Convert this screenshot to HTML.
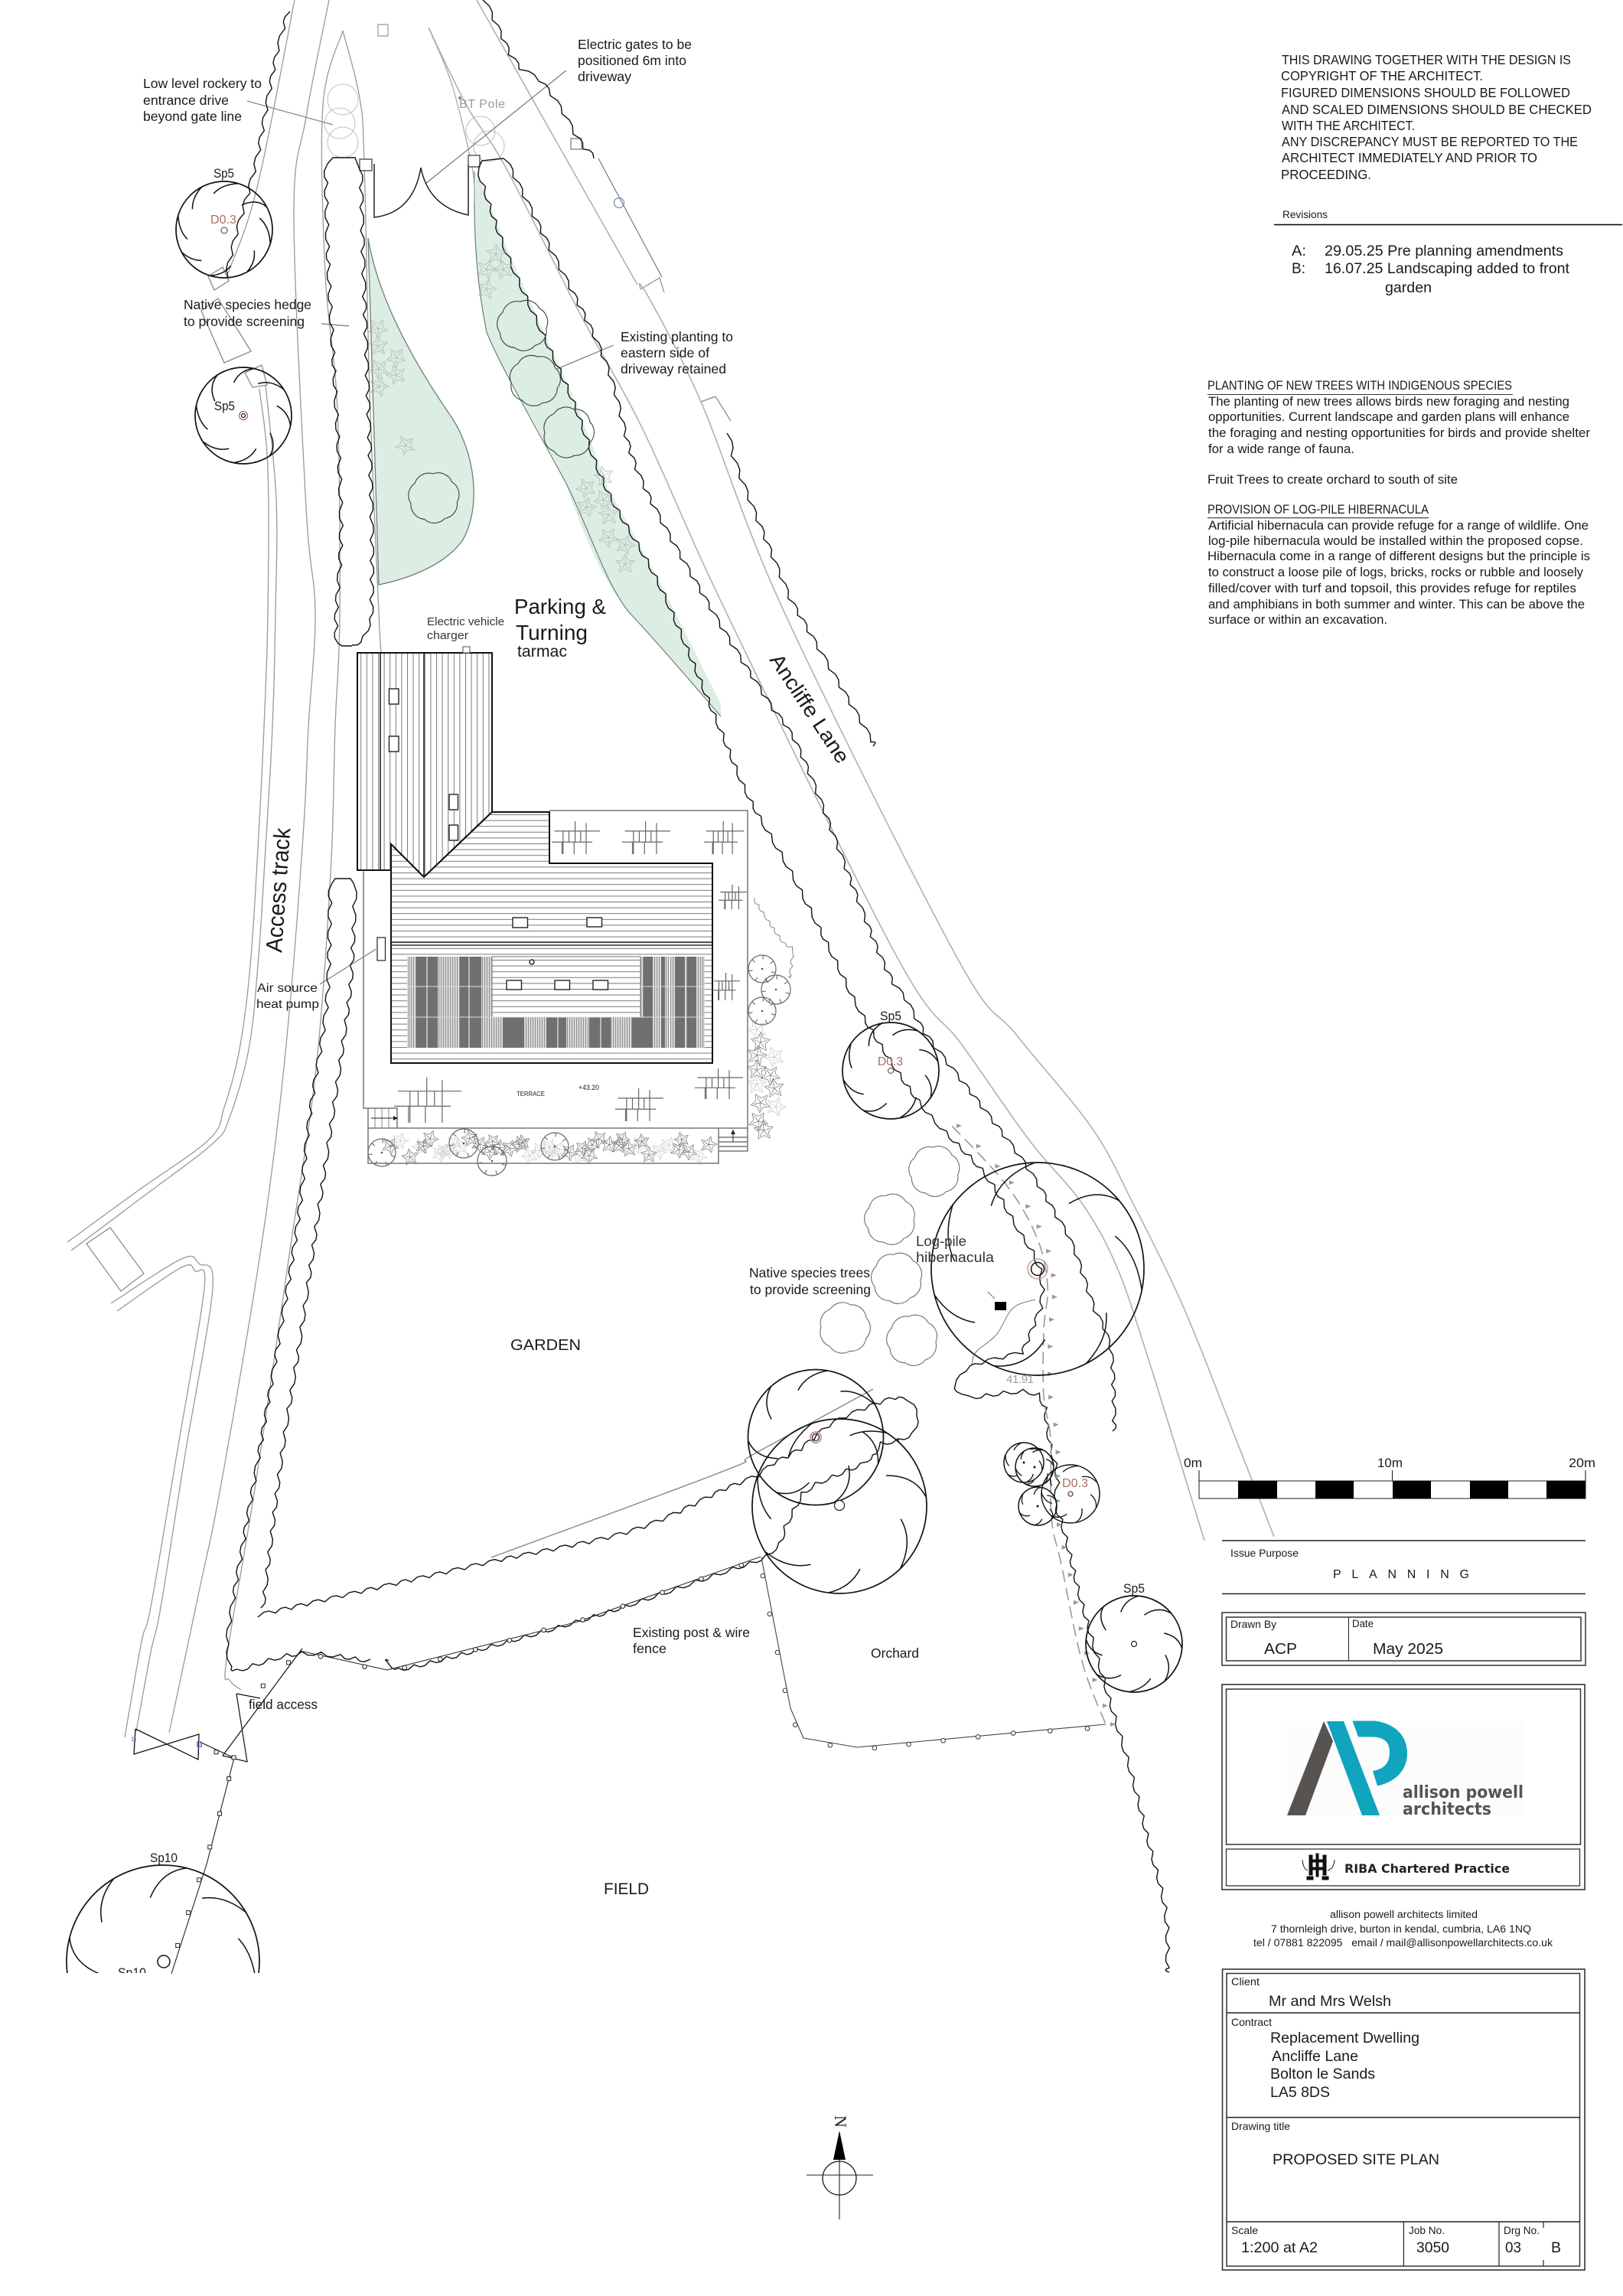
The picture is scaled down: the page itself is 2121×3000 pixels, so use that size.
<!DOCTYPE html>
<html><head><meta charset="utf-8"><title>Proposed Site Plan</title>
<style>
html,body{margin:0;padding:0;background:#fff}
svg{display:block}
text{font-family:"Liberation Sans",Arial,sans-serif;fill:#1a1a1a}
.b{font-weight:bold}
</style></head><body>
<svg xmlns="http://www.w3.org/2000/svg" width="2121" height="3000" viewBox="0 0 2121 3000">
<defs>
<pattern id="vs" width="7.6" height="10" patternUnits="userSpaceOnUse"><rect width="7.6" height="10" fill="#fff"/><rect x="0" width="1" height="10" fill="#7a7a7a"/></pattern>
<pattern id="hs" width="10" height="7.6" patternUnits="userSpaceOnUse"><rect width="10" height="7.6" fill="#fff"/><rect y="0" width="10" height="1" fill="#7a7a7a"/></pattern>
<pattern id="lt" width="3" height="10" patternUnits="userSpaceOnUse"><rect width="3" height="10" fill="#dcdcdc"/><rect width="1.1" height="10" fill="#909090"/></pattern>
<symbol id="pav" viewBox="0 0 140 90" preserveAspectRatio="none"><path vector-effect="non-scaling-stroke" fill="none" stroke="#666" stroke-width="1.2" d="M8 27H140M0 57H118M33 27V90M50 27V57M68 0V57M100 5V57M84 27V57M30 57V90M65 57V90M100 57V90"/></symbol>
<clipPath id="cut"><rect x="0" y="2300" width="500" height="278"/></clipPath>
</defs>
<rect width="2121" height="3000" fill="#fff"/>

<!-- green planting -->
<path d="M481,311 C495,395 545,480 590,545 C620,590 630,660 605,705 C585,735 540,755 495,764 Z" fill="#dceee3" stroke="#6f7f75" stroke-width="1.3"/>
<path d="M623,224 L661,321 L706,423 L750,520 L795,638 L865,765 L942,920 L942,936 C915,905 860,840 822,800 C790,760 770,720 738,628 C710,570 690,540 674,510 C650,470 640,440 636,434 C625,380 620,320 620,265 Z" fill="#dceee3" stroke="none"/>
<path d="M620,224 L620,265 C620,320 625,380 636,434 C650,470 690,540 738,628 C770,690 790,760 822,800 C860,840 915,905 942,936" fill="none" stroke="#6f7f75" stroke-width="1.2"/>

<g id="g"></g>

<!-- building -->
<polygon points="467,853 643,853 643,1061 554,1146 511,1103 511,1137 467,1137" fill="url(#vs)" stroke="#111" stroke-width="2"/>
<polygon points="511,1103 554,1146 643,1061 718,1061 718,1128 931,1128 931,1389 511,1389" fill="url(#hs)" stroke="#111" stroke-width="2"/>
<path d="M554,853V1146M497,853V1137" stroke="#222" stroke-width="1.6" fill="none"/>
<path d="M511,1231H931M511,1235H931" stroke="#333" stroke-width="1.4"/>
<rect x="532" y="1250" width="389" height="119" fill="#707070"/>
<g fill="url(#lt)">
<rect x="532" y="1250" width="12" height="119"/><rect x="572" y="1250" width="29" height="119"/>
<rect x="629" y="1250" width="14" height="119"/>
<rect x="837" y="1250" width="4" height="79"/><rect x="853" y="1250" width="11" height="119"/><rect x="869" y="1250" width="13" height="119"/><rect x="895" y="1250" width="3" height="119"/><rect x="910" y="1250" width="11" height="119"/>
<rect x="643" y="1329" width="14" height="40"/><rect x="685" y="1329" width="29" height="40"/><rect x="740" y="1329" width="30" height="40"/><rect x="798" y="1329" width="28" height="40"/>
</g>
<rect x="643" y="1250" width="194" height="79" fill="url(#hs)" stroke="#777"/>
<path d="M532,1289H643M837,1289H921M532,1329H921" stroke="#ddd" stroke-width="1"/>
<path d="M558,1250V1369M613,1250V1369M729,1329V1369M785,1329V1369M875,1250V1369" stroke="#fff" stroke-width="1"/>
<g fill="#fff" stroke="#222" stroke-width="1.4">
<rect x="508.5" y="900" width="12.5" height="20"/><rect x="508.5" y="962" width="12.5" height="20"/>
<rect x="587" y="1038" width="11.5" height="20"/><rect x="587" y="1078" width="11.5" height="20"/>
<rect x="670" y="1199" width="19.5" height="13"/><rect x="767" y="1199" width="19.5" height="12"/>
<rect x="662" y="1281" width="19.5" height="12"/><rect x="725" y="1281" width="19.5" height="12"/><rect x="775" y="1281" width="19.5" height="12"/>
<circle cx="695" cy="1257" r="3"/></g>
<rect x="605" y="845" width="9" height="8" fill="#fff" stroke="#555"/>

<!-- terrace -->
<path d="M718,1059H977V1504H939M475,1137V1448H519V1474M481,1448V1520H939V1474H481M939,1474H977M939,1486H977M939,1492H977M939,1498H977" fill="none" stroke="#777" stroke-width="1.5"/>
<path d="M490,1448V1474M499,1448V1474M508,1448V1474" stroke="#888" stroke-width="1"/>
<path d="M485,1461H520M958,1492V1476" stroke="#222" stroke-width="1"/>
<path d="M520,1461l-6,-3v6zM958,1476l-3,6h6z" fill="#222"/>
<use href="#pav" x="721" y="1073" width="63" height="43"/><use href="#pav" x="813" y="1073" width="63" height="43"/><use href="#pav" x="920" y="1073" width="52" height="43"/>
<use href="#pav" x="939" y="1156" width="37" height="32"/><use href="#pav" x="931" y="1271" width="36" height="36"/>
<use href="#pav" x="908" y="1396" width="63" height="40"/><use href="#pav" x="804" y="1422" width="63" height="43"/><use href="#pav" x="515" y="1408" width="88" height="59"/>
<text x="675" y="1432" font-size="8.5" textLength="37" lengthAdjust="spacingAndGlyphs">TERRACE</text>
<text x="756" y="1424" font-size="9" textLength="27" lengthAdjust="spacingAndGlyphs">+43.20</text>
<rect x="493" y="1225" width="10.5" height="30" fill="#fff" stroke="#222" stroke-width="1.2"/>

<!-- plan labels -->
<g font-size="17.5">
<text x="187" y="115" textLength="155" lengthAdjust="spacingAndGlyphs">Low level rockery to</text>
<text x="187" y="137" textLength="112" lengthAdjust="spacingAndGlyphs">entrance drive</text>
<text x="187" y="158" textLength="129" lengthAdjust="spacingAndGlyphs">beyond gate line</text>
<text x="755" y="64" textLength="149" lengthAdjust="spacingAndGlyphs">Electric gates to be</text>
<text x="755" y="85" textLength="142" lengthAdjust="spacingAndGlyphs">positioned 6m into</text>
<text x="755" y="106" textLength="70" lengthAdjust="spacingAndGlyphs">driveway</text>
<text x="240" y="404" textLength="167" lengthAdjust="spacingAndGlyphs">Native species hedge</text>
<text x="240" y="426" textLength="158" lengthAdjust="spacingAndGlyphs">to provide screening</text>
<text x="811" y="446" textLength="147" lengthAdjust="spacingAndGlyphs">Existing planting to</text>
<text x="811" y="467" textLength="116" lengthAdjust="spacingAndGlyphs">eastern side of</text>
<text x="811" y="488" textLength="138" lengthAdjust="spacingAndGlyphs">driveway retained</text>
<text x="979" y="1669" textLength="158" lengthAdjust="spacingAndGlyphs">Native species trees</text>
<text x="980" y="1691" textLength="158" lengthAdjust="spacingAndGlyphs">to provide screening</text>
<text x="827" y="2139" textLength="153" lengthAdjust="spacingAndGlyphs">Existing post &amp; wire</text>
<text x="827" y="2160" textLength="44" lengthAdjust="spacingAndGlyphs">fence</text>
<text x="325" y="2233" textLength="90" lengthAdjust="spacingAndGlyphs">field access</text>
</g>
<text x="279" y="232" font-size="16.5" textLength="27" lengthAdjust="spacingAndGlyphs">Sp5</text>
<text x="280" y="536" font-size="16.5" textLength="27" lengthAdjust="spacingAndGlyphs">Sp5</text>
<text x="1150" y="1333" font-size="16.5" textLength="28" lengthAdjust="spacingAndGlyphs">Sp5</text>
<text x="1468" y="2081" font-size="16.5" textLength="28" lengthAdjust="spacingAndGlyphs">Sp5</text>
<text x="196" y="2433" font-size="16.5" textLength="36" lengthAdjust="spacingAndGlyphs">Sp10</text>
<g clip-path="url(#cut)"><text x="154" y="2583" font-size="16.5" textLength="37" lengthAdjust="spacingAndGlyphs">Sp10</text></g>
<text x="275" y="292" style="fill:#a9705f" font-size="16" textLength="34" lengthAdjust="spacingAndGlyphs">D0.3</text>
<text x="1147" y="1392" style="fill:#a9705f" font-size="16" textLength="33" lengthAdjust="spacingAndGlyphs">D0.3</text>
<text x="1388" y="1943" style="fill:#a9705f" font-size="16" textLength="34" lengthAdjust="spacingAndGlyphs">D0.3</text>
<text x="600" y="141" font-size="16" style="fill:#999" textLength="60">BT Pole</text>
<text x="1315" y="1807" font-size="15" style="fill:#999" textLength="36">41.91</text>
<text x="558" y="817" font-size="14.5" textLength="101" style="fill:#333" lengthAdjust="spacingAndGlyphs">Electric vehicle</text>
<text x="558" y="835" font-size="14.5" textLength="54" style="fill:#333" lengthAdjust="spacingAndGlyphs">charger</text>
<text x="672" y="802" font-size="27.4" textLength="120" lengthAdjust="spacingAndGlyphs">Parking &amp;</text>
<text x="674" y="836" font-size="27.4" textLength="94" lengthAdjust="spacingAndGlyphs">Turning</text>
<text x="676" y="858" font-size="21" textLength="65" lengthAdjust="spacingAndGlyphs">tarmac</text>
<text x="336" y="1296" font-size="16" textLength="79" lengthAdjust="spacingAndGlyphs">Air source</text>
<text x="335" y="1317" font-size="16" textLength="82" lengthAdjust="spacingAndGlyphs">heat pump</text>
<text transform="translate(368,1245) rotate(-86)" font-size="30" textLength="163" lengthAdjust="spacingAndGlyphs">Access track</text>
<text transform="translate(1005,862) rotate(56.5)" font-size="27" textLength="165" lengthAdjust="spacingAndGlyphs">Ancliffe Lane</text>
<text x="1197" y="1628" font-size="18" textLength="66" style="fill:#333" lengthAdjust="spacingAndGlyphs">Log-pile</text>
<text x="1197" y="1649" font-size="18" textLength="102" style="fill:#333" lengthAdjust="spacingAndGlyphs">hibernacula</text>
<text x="667" y="1764" font-size="20" textLength="92" lengthAdjust="spacingAndGlyphs">GARDEN</text>
<text x="1138" y="2166" font-size="17.5" textLength="63" lengthAdjust="spacingAndGlyphs">Orchard</text>
<text x="789" y="2475" font-size="21" textLength="59" lengthAdjust="spacingAndGlyphs">FIELD</text>

<!-- north arrow -->
<text transform="translate(1091,2764) rotate(90)" font-size="22" style="font-family:'Liberation Serif',serif" textLength="12">N</text>
<polygon points="1097,2784 1089,2822 1105,2822" fill="#000"/>
<circle cx="1097" cy="2846" r="22" fill="none" stroke="#222" stroke-width="1.3"/>
<path d="M1054,2842H1141M1097,2822V2900" stroke="#222" stroke-width="1.1" fill="none"/>

<!-- copyright notes -->
<g font-size="17.5">
<text x="1675" y="84" textLength="378" lengthAdjust="spacingAndGlyphs">THIS DRAWING TOGETHER WITH THE DESIGN IS</text>
<text x="1674" y="105" textLength="264" lengthAdjust="spacingAndGlyphs">COPYRIGHT OF THE ARCHITECT.</text>
<text x="1674" y="127" textLength="378" lengthAdjust="spacingAndGlyphs">FIGURED DIMENSIONS SHOULD BE FOLLOWED</text>
<text x="1675" y="149" textLength="405" lengthAdjust="spacingAndGlyphs">AND SCALED DIMENSIONS SHOULD BE CHECKED</text>
<text x="1675" y="170" textLength="174" lengthAdjust="spacingAndGlyphs">WITH THE ARCHITECT.</text>
<text x="1675" y="191" textLength="387" lengthAdjust="spacingAndGlyphs">ANY DISCREPANCY MUST BE REPORTED TO THE</text>
<text x="1675" y="212" textLength="334" lengthAdjust="spacingAndGlyphs">ARCHITECT IMMEDIATELY AND PRIOR TO</text>
<text x="1674" y="234" textLength="118" lengthAdjust="spacingAndGlyphs">PROCEEDING.</text>
</g>
<text x="1676" y="285" font-size="14" textLength="59" lengthAdjust="spacingAndGlyphs">Revisions</text>
<path d="M1665,293.6H2120" stroke="#111" stroke-width="1.6"/>
<g font-size="19">
<text x="1688" y="334" textLength="19" lengthAdjust="spacingAndGlyphs">A:</text>
<text x="1731" y="334" textLength="312" lengthAdjust="spacingAndGlyphs">29.05.25 Pre planning amendments</text>
<text x="1688" y="357" textLength="18" lengthAdjust="spacingAndGlyphs">B:</text>
<text x="1731" y="357" textLength="320" lengthAdjust="spacingAndGlyphs">16.07.25 Landscaping added to front</text>
<text x="1810" y="382" textLength="61" lengthAdjust="spacingAndGlyphs">garden</text>
</g>
<g font-size="16.5">
<text x="1578" y="509" textLength="398" lengthAdjust="spacingAndGlyphs">PLANTING OF NEW TREES WITH INDIGENOUS SPECIES</text>
<text x="1579" y="530" textLength="472" lengthAdjust="spacingAndGlyphs">The planting of new trees allows birds new foraging and nesting</text>
<text x="1579" y="550" textLength="472" lengthAdjust="spacingAndGlyphs">opportunities. Current landscape and garden plans will enhance</text>
<text x="1579" y="571" textLength="499" lengthAdjust="spacingAndGlyphs">the foraging and nesting opportunities for birds and provide shelter</text>
<text x="1579" y="592" textLength="191" lengthAdjust="spacingAndGlyphs">for a wide range of fauna.</text>
<text x="1578" y="632" textLength="327" lengthAdjust="spacingAndGlyphs">Fruit Trees to create orchard to south of site</text>
<text x="1578" y="671" textLength="289" lengthAdjust="spacingAndGlyphs">PROVISION OF LOG-PILE HIBERNACULA</text>
<text x="1579" y="692" textLength="497" lengthAdjust="spacingAndGlyphs">Artificial hibernacula can provide refuge for a range of wildlife. One</text>
<text x="1579" y="712" textLength="490" lengthAdjust="spacingAndGlyphs">log-pile hibernacula would be installed within the proposed copse.</text>
<text x="1578" y="732" textLength="500" lengthAdjust="spacingAndGlyphs">Hibernacula come in a range of different designs but the principle is</text>
<text x="1579" y="753" textLength="490" lengthAdjust="spacingAndGlyphs">to construct a loose pile of logs, bricks, rocks or rubble and loosely</text>
<text x="1579" y="774" textLength="481" lengthAdjust="spacingAndGlyphs">filled/cover with turf and topsoil, this provides refuge for reptiles</text>
<text x="1579" y="795" textLength="492" lengthAdjust="spacingAndGlyphs">and amphibians in both summer and winter. This can be above the</text>
<text x="1579" y="815" textLength="234" lengthAdjust="spacingAndGlyphs">surface or within an excavation.</text>
</g>
<path d="M1578,515.5H1977M1578,676.7H1867" stroke="#333" stroke-width="1.1"/>

<!-- scale bar -->
<rect x="1567" y="1935" width="505" height="23" fill="#fff" stroke="#444" stroke-width="1.2"/>
<g fill="#000"><rect x="1618" y="1935" width="51" height="23"/><rect x="1719" y="1935" width="50" height="23"/><rect x="1820" y="1935" width="50" height="23"/><rect x="1921" y="1935" width="50" height="23"/><rect x="2021" y="1935" width="51" height="23"/></g>
<path d="M1567,1921V1935M1819.5,1921V1935M2072,1921V1935" stroke="#222" stroke-width="1.1"/>
<text x="1547" y="1917" font-size="17" textLength="24" lengthAdjust="spacingAndGlyphs">0m</text>
<text x="1800" y="1917" font-size="17" textLength="33" lengthAdjust="spacingAndGlyphs">10m</text>
<text x="2050" y="1917" font-size="17" textLength="35" lengthAdjust="spacingAndGlyphs">20m</text>

<!-- title block -->
<path d="M1597,2013H2072M1597,2082.5H2072" stroke="#222" stroke-width="1.5"/>
<text x="1608" y="2034" font-size="13.5" textLength="89" lengthAdjust="spacingAndGlyphs">Issue Purpose</text>
<text x="1742" y="2062" font-size="16" textLength="194" style="letter-spacing:16px">PLANNING</text>
<rect x="1597" y="2107" width="475" height="69" fill="none" stroke="#333" stroke-width="1.5"/>
<rect x="1602.5" y="2113" width="463.5" height="57" fill="none" stroke="#333" stroke-width="1.5"/>
<path d="M1762.5,2113V2170" stroke="#222"/>
<text x="1608" y="2127" font-size="13.5" textLength="60" lengthAdjust="spacingAndGlyphs">Drawn By</text>
<text x="1767" y="2126" font-size="13.5" textLength="28" lengthAdjust="spacingAndGlyphs">Date</text>
<text x="1652" y="2161" font-size="20.5" textLength="43" lengthAdjust="spacingAndGlyphs">ACP</text>
<text x="1794" y="2161" font-size="20.5" textLength="92" lengthAdjust="spacingAndGlyphs">May 2025</text>

<rect x="1597" y="2201" width="474" height="268" fill="none" stroke="#333" stroke-width="1.6"/>
<rect x="1602.5" y="2207" width="463" height="203" fill="none" stroke="#333" stroke-width="1.5"/>
<rect x="1602.5" y="2416" width="462" height="48" fill="none" stroke="#333" stroke-width="1.3"/>
<rect x="1682" y="2249" width="309" height="123" fill="#fcfcfc"/>
<polygon points="1730,2249 1742,2275 1706,2372 1682,2372" fill="#575350"/>
<polygon points="1734,2249 1756,2249 1803,2372 1780,2372" fill="#11a4bf"/>
<path d="M1767.5,2248.5 L1796,2248.5 C1825,2252 1839,2269.5 1839,2291 C1839,2315 1821,2329 1800,2333.5 L1794,2314 C1810,2311 1816,2303 1816,2289 C1816,2275 1807,2269.5 1792.6,2269.5 L1775,2269.5 Z" fill="#11a4bf"/>
<text x="1833" y="2349" font-weight="bold" font-size="22" style="font-family:'DejaVu Sans',sans-serif;fill:#58544f" textLength="158" lengthAdjust="spacingAndGlyphs">allison powell</text>
<text x="1833" y="2371" font-weight="bold" font-size="22" style="font-family:'DejaVu Sans',sans-serif;fill:#58544f" textLength="116" lengthAdjust="spacingAndGlyphs">architects</text>
<g fill="#111" stroke="#111">
<rect x="1713" y="2430" width="18" height="3"/><rect x="1713" y="2440" width="18" height="3"/><rect x="1711" y="2424" width="4" height="26"/><rect x="1720" y="2422" width="3" height="30"/><rect x="1729" y="2424" width="4" height="26"/>
<rect x="1708" y="2452" width="8" height="4"/><rect x="1728" y="2452" width="8" height="4"/>
<path d="M1702,2430 Q1703,2442 1709,2444M1744,2430 Q1743,2442 1735,2444" fill="none"/>
</g>
<text x="1757" y="2447" style="font-family:'DejaVu Sans',sans-serif;fill:#222" font-weight="bold" font-size="16" textLength="216" lengthAdjust="spacingAndGlyphs">RIBA Chartered Practice</text>

<g font-size="13.5" style="fill:#222">
<text x="1738" y="2506" textLength="193" lengthAdjust="spacingAndGlyphs">allison powell architects limited</text>
<text x="1661" y="2525" textLength="340" lengthAdjust="spacingAndGlyphs">7 thornleigh drive, burton in kendal, cumbria, LA6 1NQ</text>
<text x="1638" y="2543" textLength="391" lengthAdjust="spacingAndGlyphs">tel / 07881 822095 &#160; email / mail@allisonpowellarchitects.co.uk</text>
</g>
<rect x="1597.5" y="2573" width="473.5" height="393" fill="none" stroke="#333" stroke-width="1.6"/>
<rect x="1603" y="2578.5" width="461.5" height="382.5" fill="none" stroke="#333" stroke-width="1.5"/>
<path d="M1603,2630H2064.5M1603,2766.6H2064.5M1603,2903H2064.5" stroke="#222" stroke-width="1.5"/>
<path d="M1834.4,2903V2961M1959,2903V2961M2017,2903V2911M2017,2953V2961" stroke="#222" stroke-width="1.2"/>
<g font-size="14">
<text x="1609" y="2594" textLength="37" lengthAdjust="spacingAndGlyphs">Client</text>
<text x="1609" y="2647" textLength="53" lengthAdjust="spacingAndGlyphs">Contract</text>
<text x="1609" y="2783" textLength="77" lengthAdjust="spacingAndGlyphs">Drawing title</text>
<text x="1609" y="2919" textLength="35" lengthAdjust="spacingAndGlyphs">Scale</text>
<text x="1841" y="2919" textLength="47" lengthAdjust="spacingAndGlyphs">Job No.</text>
<text x="1965" y="2919" textLength="47" lengthAdjust="spacingAndGlyphs">Drg No.</text>
</g>
<g font-size="19.5">
<text x="1658" y="2621" textLength="160" lengthAdjust="spacingAndGlyphs">Mr and Mrs Welsh</text>
<text x="1660" y="2669" textLength="195" lengthAdjust="spacingAndGlyphs">Replacement Dwelling</text>
<text x="1662" y="2693" textLength="113" lengthAdjust="spacingAndGlyphs">Ancliffe Lane</text>
<text x="1660" y="2716" textLength="137" lengthAdjust="spacingAndGlyphs">Bolton le Sands</text>
<text x="1660" y="2740" textLength="78" lengthAdjust="spacingAndGlyphs">LA5 8DS</text>
<text x="1663" y="2828" textLength="218" lengthAdjust="spacingAndGlyphs">PROPOSED SITE PLAN</text>
<text x="1622" y="2943" textLength="100" lengthAdjust="spacingAndGlyphs">1:200 at A2</text>
<text x="1851" y="2943" textLength="43" lengthAdjust="spacingAndGlyphs">3050</text>
<text x="1967" y="2943" textLength="21" lengthAdjust="spacingAndGlyphs">03</text>
<text x="2027" y="2943" textLength="13" lengthAdjust="spacingAndGlyphs">B</text>
</g>
</svg>
<script>
(function(){
var NS='http://www.w3.org/2000/svg',G=document.getElementById('g');
var seed=7;function R(){seed=(seed*16807)%2147483647;return seed/2147483647;}
function add(t,a,p){var e=document.createElementNS(NS,t);for(var k in a)e.setAttribute(k,a[k]);(p||G).appendChild(e);return e;}
function sm(p){var o=[];for(var i=0;i<p.length-1;i++){var a=p[Math.max(i-1,0)],b=p[i],c=p[i+1],d=p[Math.min(i+2,p.length-1)];
 var n=Math.max(2,Math.ceil(Math.hypot(c[0]-b[0],c[1]-b[1])/4));
 for(var j=0;j<n;j++){var t=j/n,t2=t*t,t3=t2*t;o.push([
 .5*(2*b[0]+(c[0]-a[0])*t+(2*a[0]-5*b[0]+4*c[0]-d[0])*t2+(3*b[0]-a[0]-3*c[0]+d[0])*t3),
 .5*(2*b[1]+(c[1]-a[1])*t+(2*a[1]-5*b[1]+4*c[1]-d[1])*t2+(3*b[1]-a[1]-3*c[1]+d[1])*t3)]);}}
 o.push(p[p.length-1]);return o;}
function dstr(p){return 'M'+p.map(function(q){return q[0].toFixed(1)+','+q[1].toFixed(1)}).join('L');}
function walk(d,ds){var o=[],acc=0,next=0;for(var i=0;i<d.length-1;i++){var a=d[i],b=d[i+1],l=Math.hypot(b[0]-a[0],b[1]-a[1]);if(l==0)continue;
 while(next<=acc+l){var t=(next-acc)/l;o.push({x:a[0]+(b[0]-a[0])*t,y:a[1]+(b[1]-a[1])*t,nx:-(b[1]-a[1])/l,ny:(b[0]-a[0])/l});next+=ds*(.85+.3*R());}acc+=l;}
 var e=d[d.length-1],f=d[d.length-2],L=Math.hypot(e[0]-f[0],e[1]-f[1])||1;o.push({x:e[0],y:e[1],nx:-(e[1]-f[1])/L,ny:(e[0]-f[0])/L});return o;}
function gray(p,c,w,s){add('path',{d:dstr(s===0?p:sm(p)),fill:'none',stroke:c||'#9a9a9a','stroke-width':w||1.3});}
function hedge(p,side,col,w,ds,amp){ds=ds||27;amp=amp||4.5;var q=walk(sm(p),ds),d='M'+q[0].x.toFixed(1)+','+q[0].y.toFixed(1);
 for(var i=0;i<q.length-1;i++){var a=q[i],b=q[i+1],mx=(a.x+b.x)/2,my=(a.y+b.y)/2,k=amp*side;
 var mmx=mx+a.nx*k,mmy=my+a.ny*k;
 d+='L'+(mmx-(b.x-a.x)*.12).toFixed(1)+','+(mmy-(b.y-a.y)*.12).toFixed(1)+'L'+(mmx+(b.x-a.x)*.18).toFixed(1)+','+(mmy+(b.y-a.y)*.18).toFixed(1)+'L'+b.x.toFixed(1)+','+b.y.toFixed(1);}
 add('path',{d:d,fill:'none',stroke:col||'#111','stroke-width':w||1.4,'stroke-linejoin':'round'});}
function tree(cx,cy,r,n,ph,w){w=w||1.7;add('circle',{cx:cx,cy:cy,r:r,fill:'none',stroke:'#111','stroke-width':w});
 for(var i=0;i<n;i++){var a=ph+i*2*Math.PI/n,e=.62+.2*R(),sw=.42+.2*R();
 var sx=cx+r*Math.cos(a),sy=cy+r*Math.sin(a),c1=a-sw*.6,ex=cx+r*e*Math.cos(a-sw),ey=cy+r*e*Math.sin(a-sw),kx=cx+r*.94*Math.cos(c1),ky=cy+r*.94*Math.sin(c1);
 add('path',{d:'M'+sx.toFixed(1)+','+sy.toFixed(1)+'Q'+kx.toFixed(1)+','+ky.toFixed(1)+' '+ex.toFixed(1)+','+ey.toFixed(1),fill:'none',stroke:'#111','stroke-width':w-.2});}}
function shrub(cx,cy,r,col){var n=7,d='',ph=R()*6;for(var i=0;i<=n;i++){var a=ph+i*2*Math.PI/n,x=cx+r*Math.cos(a),y=cy+r*Math.sin(a);
 d+=i==0?'M'+x.toFixed(1)+','+y.toFixed(1):'A'+(r*.62).toFixed(1)+','+(r*.62).toFixed(1)+' 0 0 1 '+x.toFixed(1)+','+y.toFixed(1);}
 add('path',{d:d,fill:'none',stroke:col,'stroke-width':1.1});}
function leaf(x,y,r,col){var ph=R()*6,d='';for(var i=0;i<10;i++){var a=ph+i*Math.PI/5,q=i%2?r*.5:r;d+=(i?'L':'M')+(x+q*Math.cos(a)).toFixed(1)+','+(y+q*Math.sin(a)).toFixed(1);}d+='Z';
 for(var i=0;i<5;i++){var a=ph+i*2*Math.PI/5;d+='M'+x.toFixed(1)+','+y.toFixed(1)+'L'+(x+r*.7*Math.cos(a)).toFixed(1)+','+(y+r*.7*Math.sin(a)).toFixed(1);}
 add('path',{d:d,fill:'none',stroke:col,'stroke-width':.65});}
function pizza(x,y,r){add('circle',{cx:x,cy:y,r:r,fill:'none',stroke:'#666','stroke-width':1.2});add('circle',{cx:x,cy:y,r:1.2,fill:'#444'});
 var d='';for(var i=0;i<7;i++){var a=i*2*Math.PI/7+.3;d+='M'+(x+r*Math.cos(a)).toFixed(1)+','+(y+r*Math.sin(a)).toFixed(1)+'L'+(x+r*.7*Math.cos(a)).toFixed(1)+','+(y+r*.7*Math.sin(a)).toFixed(1);}
 add('path',{d:d,stroke:'#666','stroke-width':1.1,fill:'none'});}
function rect(x,y,w,h,s){add('rect',{x:x,y:y,width:w,height:h,fill:'#fff',stroke:s||'#333','stroke-width':1.2});}
function poly(p,c,w,close){add(close?'polygon':'polyline',{points:p.map(function(q){return q.join(',')}).join(' '),fill:'none',stroke:c||'#888','stroke-width':w||1.2});}

/* roads */
gray([[385,0],[336,245],[298,357]],'#999');
gray([[339,508],[350,612],[350,800],[345,950],[337,1109],[327,1262],[313,1371],[293,1447],[273,1489],[180,1556],[88,1623]],'#999');
gray([[347,503],[361,653],[360,800],[356,950],[347,1109],[337,1262],[325,1371],[300,1460],[277,1495],[185,1565],[93,1634]],'#999');
gray([[153,1713],[237,1656],[255,1661],[267,1683],[231,1900],[197,2100],[185,2145],[163,2270]],'#999');
gray([[145,1703],[237,1645],[260,1651],[278,1683],[242,1900],[210,2100],[197,2159],[178,2262]],'#999');
gray([[430,0],[400,153],[384,281],[400,663],[412,800],[403,950],[397,1078],[380,1301],[360,1492],[333,1683],[287,1950],[260,2080],[221,2264]],'#999');
gray([[448,40],[422,138],[425,357],[441,536],[444,800],[438,950],[432,1141],[413,1396],[378,1640],[333,1945],[296,2168],[300,2195],[315,2208]],'#999');
gray([[448,40],[470,128],[476,214],[483,510],[495,800],[498,852]],'#999');
gray([[560,36],[591,112],[617,219],[620,265]],'#aaa');
gray([[560,36],[610,138],[661,219],[757,408],[840,561],[949,800],[1172,1250],[1257,1365],[1346,1491],[1413,1571],[1458,1652],[1498,1767],[1574,2013]],'#b0b0b0',1.6);
gray([[623,0],[709,153],[833,372]],'#b0b0b0',1.6,0);
gray([[837,378],[862,363],[868,382]],'#888',1.2,0);
gray([[837,378],[843,380],[916,525],[1025,800],[1250,1250],[1329,1353],[1427,1474],[1480,1571],[1547,1709],[1615,1880],[1665,2008]],'#b0b0b0',1.6);
gray([[916,525],[935,518],[955,550]],'#888',1.2,0);
gray([[782,207],[865,362]],'#778',1.2,0);
add('circle',{cx:809,cy:265,r:6.5,fill:'none',stroke:'#6a8fb5','stroke-width':1.2});
gray([[642,2035],[946,1922],[985,1900],[1141,1815]],'#888',1.4);
gray([[1353,1698],[1324,1709],[1302,1744],[1275,1767],[1270,1784]],'#888',1.2);
/* small rects */
poly([[272,361],[291,349],[299,367],[280,379]],'#888',1.3,1);poly([[263,406],[285,390],[328,459],[293,474]],'#888',1.3,1);poly([[320,487],[342,477],[349,503],[330,506]],'#888',1.3,1);
poly([[113,1625],[144,1604],[188,1664],[158,1687]],'#888',1.2,1);
poly([[494,32],[507,32],[507,47],[494,47]],'#999',1.2,1);poly([[746,181],[760,181],[760,195],[746,195]],'#777',1.2,1);
/* rockery */
[[448,130,20],[444,161,20],[448,186,20],[628,171,19],[639,191,20]].forEach(function(c){add('circle',{cx:c[0],cy:c[1],r:c[2],fill:'none',stroke:'#c4c4c4','stroke-width':1.1});});
add('circle',{cx:601,cy:128,r:2,fill:'#888'});
/* leaders */
poly([[323,132],[435,163]],'#888',1.2);poly([[740,92],[556,240]],'#777',1.2);poly([[420,423],[456,426]],'#777',1.2);poly([[802,451],[728,482]],'#777',1.2);poly([[418,1286],[491.5,1240]],'#777',1.1);poly([[1291,1688],[1300,1697]],'#777',1.1);
add('rect',{x:1300,y:1701,width:15,height:11,fill:'#000'});
/* gate */
add('path',{d:'M489,214V284Q540,278 550,219M612,214V281Q560,270 550,219',fill:'none',stroke:'#222','stroke-width':1.5});
rect(470,208,16,15);rect(612,203,15,15);
/* hedges */
hedge([[379,15],[365,66],[352,133],[339,204],[326,255],[310,310],[298,362]],1);
hedge([[428,214],[432,357],[448,663],[442,800],[442,841]],1);
hedge([[469,219],[473,367],[483,663],[483,800],[480,824],[460,843]],-1);
add('path',{d:'M428,214L435,206H464L469,219M442,841L447,844H460',fill:'none',stroke:'#111','stroke-width':1.4});
hedge([[434,1154],[432,1269],[427,1333],[407,1460],[393,1588],[373,1715],[341,1900],[302,2123],[301,2172],[309,2181]],1);
hedge([[462,1154],[457,1269],[450,1333],[427,1492],[413,1588],[390,1747],[366,1900],[341,2101]],-1);
add('path',{d:'M434,1154L438,1148H458L462,1154',fill:'none',stroke:'#111','stroke-width':1.4});
hedge([[631,0],[655,51],[674,87],[703,105],[731,143],[757,189],[776,207]],-1);
hedge([[950,566],[961,612],[1025,770],[1040,800],[1141,975]],-1);
hedge([[626,218],[661,321],[706,423],[750,520],[795,638],[865,765],[942,948],[980,1039],[1034,1135],[1092,1250],[1132,1330],[1208,1445],[1288,1531],[1333,1606],[1360,1652],[1364,1703],[1346,1749],[1342,1767],[1279,1784],[1253,1801],[1257,1824],[1355,1818],[1373,1881],[1385,1930],[1380,1960],[1390,1989],[1401,2032],[1414,2086],[1445,2195],[1463,2256],[1481,2317],[1504,2408],[1526,2498],[1528,2577]],1,'#111',1.4,25,4.5);
hedge([[658,207],[712,316],[789,474],[833,622],[929,800],[1003,920],[1047,991],[1148,1250],[1186,1313],[1208,1353],[1284,1451],[1340,1526],[1378,1589],[1400,1629],[1427,1709],[1449,1761],[1454,1870]],-1,'#111',1.4,25,4.5);
add('path',{d:'M626,218L630,210L658,207',fill:'none',stroke:'#111','stroke-width':1.4});
hedge([[337,2113],[634,2045],[825,2003],[950,1947],[988,1932],[1012,1914],[1048,1895],[1088,1862],[1142,1838],[1169,1829],[1182,1826],[1198,1850],[1193,1871],[1173,1880]],-1,'#111',1.4,23,4.5);
hedge([[1173,1880],[1146,1886],[1137,1905],[1097,1923],[1053,1944],[1039,1965],[1021,2001],[1017,2017],[995,2035],[950,2050],[762,2114],[529,2178],[508,2170]],-1,'#111',1.4,23,4.5);
hedge([[484,2168],[392,2158],[309,2181]],-1,'#111',1.4,23,4.5);
/* fence */
poly([[392,2157],[506,2182],[755,2119],[994,2034]],'#333',1.1);
poly([[995,2035],[1033,2232],[1050,2271],[1120,2283],[1445,2253]],'#444',1.1);
poly([[177,2259],[259,2299],[260,2266],[175,2292],[177,2259]],'#111',1.3);
poly([[309,2213],[323,2302],[291,2294],[395,2154]],'#111',1.2);poly([[309,2213],[340,2219]],'#111',1.2);
poly([[261,2276],[306,2297]],'#111',1.1);
gray([[306,2297],[270,2436],[224,2579]],'#222',1.1,0);
[[349,872],[375,950],[356,1052],[336,1150],[314,1246],[292,1342],[270,1438],[497,610],[445,678],[385,888]].forEach(function(p){add('rect',{x:60+p[0]/1.568-2.5,y:1900+p[1]/2.24-2.5,width:5,height:5,fill:'#fff',stroke:'#222','stroke-width':1});});
[[563,592],[653,622],[735,625],[808,600],[880,572],[950,545],[1020,515],[1100,485],[1182,445],[1263,405],[1343,365],[1425,325]].forEach(function(p){add('circle',{cx:60+p[0]/1.568,cy:1900+p[1]/2.24,r:2.8,fill:'#fff',stroke:'#222','stroke-width':1});});
[[105,675],[125,757],[148,840],[170,922],[200,996],[302,1040],[432,1046],[532,1038],[633,1030],[735,1022],[838,1014],[946,1009],[1055,1004]].forEach(function(p){add('circle',{cx:950+p[0]/2.24,cy:1650+p[1]/1.65,r:2.8,fill:'#fff',stroke:'#333','stroke-width':1});});
add('rect',{x:173,y:2270,width:4,height:5,fill:'none',stroke:'#77c'});add('rect',{x:258,y:2276,width:5,height:6,fill:'none',stroke:'#66c','stroke-width':1.5});
/* dashed */
var dash=[[1244,1471],[1315,1548],[1355,1617],[1369,1680],[1364,1738],[1364,1824],[1373,1881],[1374,1983],[1387,2044],[1414,2171],[1445,2253]];
var dl=sm(dash);add('path',{d:dstr(dl),fill:'none',stroke:'#999','stroke-width':1.6,'stroke-dasharray':'16 8'});
walk(dl,33).forEach(function(q){add('polygon',{points:q.x+6+','+(q.y-3)+' '+(q.x+13)+','+q.y+' '+(q.x+6)+','+(q.y+3),fill:'#999'});});
/* trees */
tree(293,300,63,8,.3);tree(318,543,63,8,1);
tree(1164,1399,63,8,.6);tree(1482,2148,63,8,.1);
tree(1066,1878,88.5,7,.4);tree(1097,1968,114,7,.8);tree(1356,1658,139,7,.2);
tree(1338,1911,26,6,.4,1.5);tree(1352,1917,25,6,1,1.5);tree(1356,1968,25,6,.7,1.5);tree(1399,1952,38,7,.5,1.5);
var cg=add('g',{'clip-path':'url(#cut)'});var keep=G;G=cg;tree(213,2563,126,8,.25);add('circle',{cx:214,cy:2563,r:8,fill:'none',stroke:'#111','stroke-width':1.5});G=keep;
add('circle',{cx:293,cy:301,r:4,fill:'none',stroke:'#8a5a4a','stroke-width':1.3});
add('circle',{cx:318,cy:543,r:5.5,fill:'none',stroke:'#a9705f','stroke-width':1.3});add('circle',{cx:318,cy:543,r:2.5,fill:'none',stroke:'#222','stroke-width':1.3});
add('circle',{cx:1164,cy:1399,r:3.5,fill:'none',stroke:'#8a5a4a','stroke-width':1.2});
add('circle',{cx:1482,cy:2148,r:3.5,fill:'none',stroke:'#222','stroke-width':1.2});
add('circle',{cx:1356,cy:1658,r:13,fill:'none',stroke:'#c09080','stroke-width':1.3});add('circle',{cx:1356,cy:1658,r:8.5,fill:'none',stroke:'#111','stroke-width':1.5});
add('circle',{cx:1066,cy:1878,r:7,fill:'none',stroke:'#c09080','stroke-width':1.8});add('circle',{cx:1066,cy:1878,r:4.5,fill:'none',stroke:'#222','stroke-width':1.2});
add('circle',{cx:1097,cy:1967,r:6.5,fill:'#fff',stroke:'#222','stroke-width':1.2});
add('circle',{cx:1399,cy:1952,r:3,fill:'none',stroke:'#8a5a4a','stroke-width':1.6});
[[1338,1911],[1352,1917],[1356,1968]].forEach(function(p){add('circle',{cx:p[0],cy:p[1],r:1.5,fill:'#111'});});
/* shrubs */
[[1221,1530],[1163,1593],[1172,1670],[1104,1735],[1192,1751]].forEach(function(p){shrub(p[0],p[1],31,'#5c7a62');});
[[683,425],[699,497],[743,565],[567,650]].forEach(function(p){shrub(p[0],p[1],31,'#2e4a38');});
/* leaves */
[[494,429],[494,452],[518,467],[495,482],[518,490],[495,505],[530,582],[648,332],[636,352],[658,352],[636,378],[789,622],[766,638],[789,653],[766,663],[795,673],[795,702],[817,712],[817,737]].forEach(function(p){leaf(p[0],p[1],13,'#aaa');});
[[989,1345],[994,1362],[989,1379],[1012,1381],[989,1398],[1007,1405],[989,1417],[1012,1422],[994,1441],[1014,1446],[991,1465],[998,1477]].forEach(function(p,i){leaf(p[0],p[1],13,i%3==0?'#bbb':'#666');});
for(var x=510;x<930;x+=13){var dk=(x<565||(x>600&&x<680)||(x>740));leaf(x,1486+R()*26,11,dk&&R()>.3?'#666':'#c4c4c4');if(R()>.6)leaf(x+4,1487+R()*24,10,dk?'#666':'#ccc');}
[[996,1266,18],[1014,1293,19],[996,1321,18],[499,1506,18],[606,1494,19],[643,1517,19],[725,1498,18]].forEach(function(p){pizza(p[0],p[1],p[2]);});
hedge([[986,1173],[1025,1231],[1037,1240],[1034,1278]],1,'#888',1,12,3);
})();
</script>
</body></html>
